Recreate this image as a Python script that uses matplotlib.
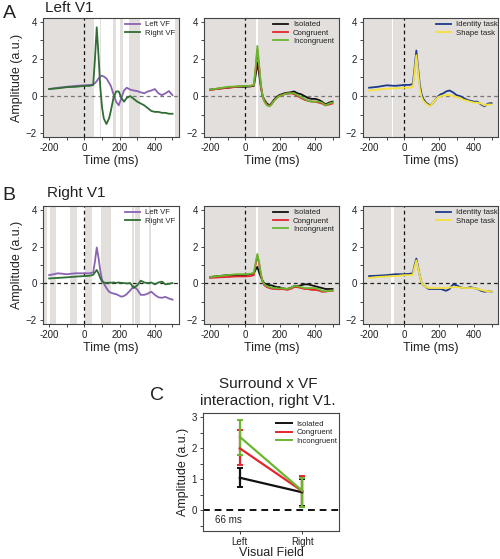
import matplotlib
matplotlib.use("Agg")
import matplotlib.pyplot as plt
from matplotlib.ticker import MultipleLocator
from matplotlib.lines import Line2D

plt.rcParams['font.family'] = ['Liberation Sans', 'DejaVu Sans']

# ---------------- data ----------------
t = [-200, -150, -100, -50, 0, 30, 50, 60, 70, 80, 90, 100, 110, 125, 140, 150, 165, 180,
     195, 210, 225, 240, 260, 280, 300, 320, 340, 360, 380, 400, 420, 440, 460, 480, 500]

a1_left = [0.38, 0.45, 0.5, 0.55, 0.58, 0.6, 0.62, 0.7, 0.8, 0.95, 1.05, 1.1, 1.05, 0.95, 0.72,
           0.55, 0.1, -0.3, -0.5, -0.1, 0.3, 0.45, 0.35, 0.3, 0.27, 0.2, 0.15, 0.25, 0.3, 0.38,
           0.15, 0.05, 0.15, 0.27, 0.05]
a1_right = [0.38, 0.42, 0.48, 0.5, 0.55, 0.55, 0.6, 2.0, 3.7, 2.2, 0.5, -0.6, -1.2, -1.5, -1.2,
            -0.8, -0.1, 0.25, 0.25, -0.1, -0.3, -0.1, 0.0, -0.15, -0.3, -0.4, -0.5, -0.65, -0.8,
            -0.85, -0.85, -0.9, -0.9, -0.95, -0.95]
a2_iso = [0.35, 0.4, 0.45, 0.5, 0.5, 0.52, 0.55, 1.1, 1.8, 1.2, 0.5, 0.0, -0.2, -0.4, -0.5, -0.4,
          -0.2, -0.05, 0.05, 0.1, 0.15, 0.18, 0.2, 0.25, 0.15, 0.1, 0.0, -0.1, -0.15, -0.15, -0.2,
          -0.3, -0.45, -0.35, -0.3]
a2_con = [0.32, 0.4, 0.45, 0.5, 0.55, 0.55, 0.58, 1.4, 2.5, 1.6, 0.6, 0.0, -0.25, -0.45, -0.52,
          -0.45, -0.25, -0.1, 0.0, 0.05, 0.1, 0.12, 0.15, 0.1, 0.0, -0.1, -0.2, -0.25, -0.3, -0.3,
          -0.35, -0.4, -0.5, -0.45, -0.4]
a2_inc = [0.35, 0.42, 0.5, 0.52, 0.55, 0.55, 0.6, 1.5, 2.7, 1.7, 0.6, 0.0, -0.3, -0.5, -0.55,
          -0.45, -0.25, -0.1, 0.0, 0.05, 0.1, 0.15, 0.15, 0.15, 0.05, -0.05, -0.15, -0.25, -0.3,
          -0.3, -0.3, -0.35, -0.5, -0.4, -0.35]
a3_id = [0.45, 0.5, 0.58, 0.55, 0.6, 0.6, 0.65, 1.5, 2.45, 1.5, 0.6, 0.1, -0.15, -0.35, -0.45,
         -0.5, -0.35, -0.2, 0.0, 0.1, 0.15, 0.25, 0.3, 0.2, 0.05, 0.0, -0.1, -0.2, -0.25, -0.3,
         -0.3, -0.45, -0.55, -0.4, -0.38]
a3_sh = [0.3, 0.35, 0.4, 0.42, 0.45, 0.45, 0.48, 1.3, 2.2, 1.3, 0.4, -0.05, -0.25, -0.4, -0.5,
         -0.52, -0.35, -0.2, -0.05, 0.0, 0.03, 0.05, 0.05, 0.0, -0.05, -0.1, -0.2, -0.25, -0.3,
         -0.35, -0.35, -0.4, -0.5, -0.45, -0.45]
b1_left = [0.45, 0.55, 0.5, 0.55, 0.55, 0.55, 0.6, 1.2, 1.95, 1.4, 0.7, 0.2, 0.0, -0.25, -0.45,
           -0.5, -0.55, -0.58, -0.65, -0.72, -0.68, -0.58, -0.38, -0.15, -0.33, -0.62, -0.62,
           -0.55, -0.45, -0.62, -0.75, -0.78, -0.73, -0.82, -0.88]
b1_right = [0.27, 0.3, 0.33, 0.37, 0.4, 0.42, 0.47, 0.6, 0.73, 0.55, 0.3, 0.1, 0.05, 0.03, 0.04,
            0.04, 0.05, 0.03, 0.05, 0.03, 0.02, 0.0, 0.02, -0.25, -0.1, 0.15, 0.05, 0.02, 0.05,
            -0.05, 0.05, 0.1, -0.05, -0.02, 0.02]
b2_iso = [0.35, 0.4, 0.45, 0.45, 0.45, 0.5, 0.55, 0.75, 0.9, 0.6, 0.35, 0.15, 0.0, -0.05, -0.1,
          -0.1, -0.15, -0.2, -0.2, -0.25, -0.28, -0.3, -0.25, -0.15, -0.15, -0.1, -0.05, -0.05,
          -0.1, -0.15, -0.2, -0.25, -0.3, -0.3, -0.3]
b2_con = [0.3, 0.33, 0.35, 0.38, 0.38, 0.4, 0.45, 1.0, 1.5, 1.1, 0.5, 0.1, -0.1, -0.2, -0.25,
          -0.28, -0.3, -0.3, -0.32, -0.3, -0.32, -0.35, -0.3, -0.2, -0.2, -0.25, -0.3, -0.3,
          -0.35, -0.35, -0.38, -0.45, -0.45, -0.4, -0.4]
b2_inc = [0.35, 0.4, 0.45, 0.5, 0.5, 0.52, 0.58, 1.1, 1.6, 1.15, 0.5, 0.1, -0.05, -0.15, -0.2,
          -0.22, -0.25, -0.25, -0.28, -0.25, -0.28, -0.3, -0.25, -0.15, -0.15, -0.2, -0.25,
          -0.25, -0.25, -0.25, -0.3, -0.4, -0.42, -0.4, -0.38]
b3_id = [0.4, 0.42, 0.45, 0.5, 0.5, 0.52, 0.55, 1.0, 1.35, 0.9, 0.4, 0.05, -0.1, -0.2, -0.3,
         -0.3, -0.3, -0.3, -0.3, -0.3, -0.35, -0.4, -0.3, -0.05, -0.1, -0.2, -0.25, -0.25, -0.2,
         -0.25, -0.3, -0.4, -0.45, -0.42, -0.45]
b3_sh = [0.3, 0.35, 0.38, 0.4, 0.45, 0.45, 0.48, 0.9, 1.25, 0.85, 0.4, 0.05, -0.1, -0.2, -0.25,
         -0.25, -0.25, -0.25, -0.25, -0.25, -0.25, -0.25, -0.22, -0.2, -0.2, -0.22, -0.25, -0.25,
         -0.25, -0.25, -0.3, -0.35, -0.4, -0.42, -0.45]

# significant time windows (ms), shaded gray
a1_sig = [(-235, 53), (88, 95), (162, 178), (203, 221), (251, 315), (515, 537)]
a2_sig = [(-235, 65), (76, 537)]
a3_sig = [(-235, -68), (-62, 537)]
b1_sig = [(-232, -212), (-195, -162), (-84, -40), (3, 45), (93, 150), (272, 283), (288, 316),
          (368, 378)]
b2_sig = [(-235, 64), (71, 537)]
b3_sig = [(-235, -76), (-58, 537)]

vf_labels = ["Left VF", "Right VF"]
surr_labels = ["Isolated", "Congruent", "Incongruent"]
task_labels = ["Identity task", "Shape task"]

# panel C
c_fields = ["Left", "Right"]
c_iso = [1.05, 0.58]
c_iso_lo = [0.75, 0.15]
c_iso_hi = [1.35, 1.0]
c_con = [2.0, 0.62]
c_con_lo = [1.45, 0.12]
c_con_hi = [2.6, 1.11]
c_inc = [2.37, 0.63]
c_inc_lo = [1.8, 0.12]
c_inc_hi = [2.93, 1.05]

# ---------------- style ----------------
PURPLE = "#8a63b3"
DGREEN = "#2f6e34"
BLACK = "#111111"
RED = "#e3262b"
LGREEN = "#6bb52f"
BLUE = "#1d3a8a"
YELLOW = "#f4e13c"
SHADE = "#e2dfdc"
SPINE = "#444444"
TXT = "#222222"

fig = plt.figure(figsize=(5, 5.59), dpi=100)
W, H = 500.0, 559.0


def ax_at(l, t_, r, b):
    return fig.add_axes([l / W, 1 - b / H, (r - l) / W, (b - t_) / H])


def ts_panel(ax, sig, series, colors, labels, leg_x, hcolor, first):
    for s, e in sig:
        ax.axvspan(s, e, color=SHADE, lw=0, zorder=0)
    ax.axvline(0, color=BLACK, lw=0.9, ls=(0, (3, 2.5)), zorder=1)
    ax.axhline(0, color=hcolor, lw=0.9, ls=(0, (3, 2.5)), zorder=1)
    for y, c, lab in zip(series, colors, labels):
        ax.plot(t, y, color=c, lw=1.3, label=lab, zorder=3)
    ax.set_xlim(-235, 537)
    ax.set_ylim(-2.2, 4.2)
    ax.xaxis.set_major_locator(MultipleLocator(200))
    ax.xaxis.set_minor_locator(MultipleLocator(100))
    ax.yaxis.set_major_locator(MultipleLocator(2))
    ax.yaxis.set_minor_locator(MultipleLocator(1))
    ax.tick_params(which='both', direction='out', length=2.5, width=0.7, color=SPINE,
                   labelsize=7, labelcolor=TXT, pad=2)
    for sp in ax.spines.values():
        sp.set_color(SPINE)
        sp.set_linewidth(0.8)
    ax.set_xticks([-200, 0, 200, 400])
    ax.set_xticklabels(["-200", "0", "200", "400"])
    ax.set_xlabel("Time (ms)", fontsize=9, color=TXT, labelpad=1)
    if first:
        ax.set_ylabel("Amplitude (a.u.)", fontsize=9, color=TXT, labelpad=2)
    leg = ax.legend(loc='upper left', bbox_to_anchor=(leg_x, 0.975), frameon=False,
                    fontsize=5.6, handlelength=2.0, handletextpad=0.6, labelspacing=0.12,
                    borderpad=0, borderaxespad=0)
    for txt in leg.get_texts():
        txt.set_color(TXT)


rows = [(18, 137), (206, 324)]
cols = [(43, 179), (204, 339), (363, 498)]

panels = [
    [(a1_sig, [a1_left, a1_right], [PURPLE, DGREEN], vf_labels, 0.60),
     (a2_sig, [a2_iso, a2_con, a2_inc], [BLACK, RED, LGREEN], surr_labels, 0.51),
     (a3_sig, [a3_id, a3_sh], [BLUE, YELLOW], task_labels, 0.54)],
    [(b1_sig, [b1_left, b1_right], [PURPLE, DGREEN], vf_labels, 0.60),
     (b2_sig, [b2_iso, b2_con, b2_inc], [BLACK, RED, LGREEN], surr_labels, 0.51),
     (b3_sig, [b3_id, b3_sh], [BLUE, YELLOW], task_labels, 0.54)],
]
hcolors = ["#777777", "#222222"]

for ri, (top, bot) in enumerate(rows):
    for ci, (l, r) in enumerate(cols):
        ax = ax_at(l, top, r, bot)
        sig, series, colors, labels, lx = panels[ri][ci]
        ts_panel(ax, sig, series, colors, labels, lx, hcolors[ri], ci == 0)

fig.text(9 / W, 1 - 13 / H, "A", fontsize=14, ha='center', va='center', color=TXT)
fig.text(45 / W, 1 - 8 / H, "Left V1", fontsize=11, ha='left', va='center', color=TXT)
fig.text(9 / W, 1 - 195 / H, "B", fontsize=14, ha='center', va='center', color=TXT)
fig.text(47 / W, 1 - 193 / H, "Right V1", fontsize=11, ha='left', va='center', color=TXT)

# ---------------- panel C ----------------
axc = ax_at(203, 413, 339, 531)
xs = [0, 1]
handles = []
for y, lo, hi, c, lab in [(c_iso, c_iso_lo, c_iso_hi, BLACK, surr_labels[0]),
                          (c_con, c_con_lo, c_con_hi, RED, surr_labels[1]),
                          (c_inc, c_inc_lo, c_inc_hi, LGREEN, surr_labels[2])]:
    yerr = [[yy - l_ for yy, l_ in zip(y, lo)], [h_ - yy for yy, h_ in zip(y, hi)]]
    axc.errorbar(xs, y, yerr=yerr, color=c, lw=1.6, elinewidth=1.6, capsize=2.5,
                 capthick=1.4, zorder=3)
    handles.append(Line2D([], [], color=c, lw=1.4, label=lab))
axc.axhline(0, color=BLACK, lw=1.4, ls=(0, (3.5, 2.5)), zorder=1)
axc.set_xlim(-0.59, 1.59)
axc.set_ylim(-0.67, 3.14)
axc.set_xticks(xs)
axc.set_xticklabels(c_fields)
axc.set_yticks([0, 1, 2, 3])
axc.yaxis.set_minor_locator(MultipleLocator(0.5))
axc.tick_params(which='both', direction='out', length=2.5, width=0.7, color=SPINE,
                labelsize=7, labelcolor=TXT, pad=2)
for sp in axc.spines.values():
    sp.set_color(SPINE)
    sp.set_linewidth(0.8)
axc.set_xlabel("Visual Field", fontsize=9, color=TXT, labelpad=0)
axc.set_ylabel("Amplitude (a.u.)", fontsize=9, color=TXT, labelpad=2)
axc.text(-0.39, -0.31, "66 ms", fontsize=7, color=TXT, ha='left', va='center')
legc = axc.legend(handles=handles, loc='upper left', bbox_to_anchor=(0.54, 0.935),
                  frameon=False, fontsize=5.6, handlelength=2.0, handletextpad=0.6,
                  labelspacing=0.12, borderpad=0, borderaxespad=0)
for txt in legc.get_texts():
    txt.set_color(TXT)
fig.text(268 / W, 1 - 384 / H, "Surround x VF", fontsize=11, ha='center', va='center',
         color=TXT)
fig.text(268 / W, 1 - 401.5 / H, "interaction, right V1.", fontsize=11, ha='center',
         va='center', color=TXT)
fig.text(157 / W, 1 - 395 / H, "C", fontsize=14, ha='center', va='center', color=TXT)

fig.savefig("out.png", dpi=100)
